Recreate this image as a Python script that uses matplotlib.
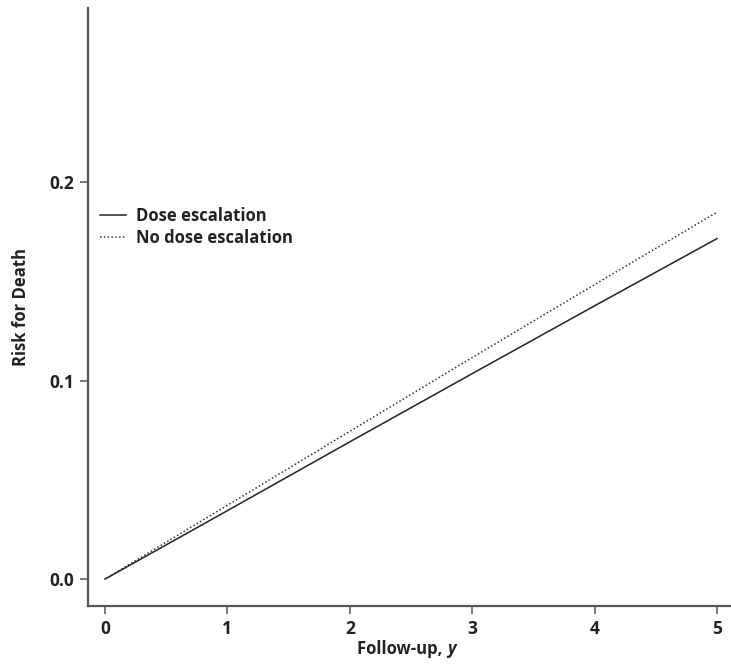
import numpy as np
import matplotlib
matplotlib.use("Agg")
import matplotlib.pyplot as plt

# ---- data ----
years = [0, 1, 2, 3, 4, 5]
risk_dose_esc = [0.0, 0.0345, 0.0692, 0.1036, 0.1378, 0.1717]
risk_no_dose_esc = [0.0, 0.0372, 0.0745, 0.1117, 0.1485, 0.1850]

x_ticks = [0, 1, 2, 3, 4, 5]
y_ticks = [0.0, 0.1, 0.2]
y_tick_labels = ["0.0", "0.1", "0.2"]

plt.rcParams['font.family'] = ['Open Sans', 'DejaVu Sans']

fig = plt.figure(figsize=(7.31, 6.65), dpi=100)
ax = fig.add_axes([0.1204, 0.0887, 0.8782, 0.8993])

ax.plot(years, risk_dose_esc, color='#222222', linewidth=1.1, linestyle='-', label='Dose escalation')
ax.plot(years, risk_no_dose_esc, color='#333333', linewidth=1.1, linestyle=(0, (1, 1.5)), label='No dose escalation')

ax.set_xlim(-0.139, 5.106)
ax.set_ylim(-0.0136, 0.288)
ax.set_xticks(x_ticks)
ax.set_yticks(y_ticks)
ax.set_yticklabels(y_tick_labels)

for s in ['top', 'right']:
    ax.spines[s].set_visible(False)
for s in ['left', 'bottom']:
    ax.spines[s].set_color('#555555')
    ax.spines[s].set_linewidth(1.6)

ax.tick_params(direction='out', length=6, width=1.1, color='#555555', labelsize=12.5, pad=4)
for lab in ax.get_xticklabels() + ax.get_yticklabels():
    lab.set_fontweight('bold')
    lab.set_color('#222222')

# x label drawn in two parts so that "y" can be italic
fig.text(0.612, 0.016, "Follow-up, ", fontsize=12, fontweight='bold', color='#222222', ha='right', va='baseline')
fig.text(0.612, 0.016, "y", fontsize=12, fontweight='bold', style='italic', color='#222222', ha='left', va='baseline')

ax.set_ylabel("Risk for Death", fontsize=12, fontweight='bold', color='#222222', labelpad=14)

leg = ax.legend(loc='upper left', bbox_to_anchor=(0.0, 0.687), frameon=False, fontsize=12,
                handlelength=1.6, handletextpad=0.55, labelspacing=0.25, borderaxespad=0.3)
for t in leg.get_texts():
    t.set_fontweight('bold')
    t.set_color('#222222')

fig.savefig("out.png", dpi=100)
